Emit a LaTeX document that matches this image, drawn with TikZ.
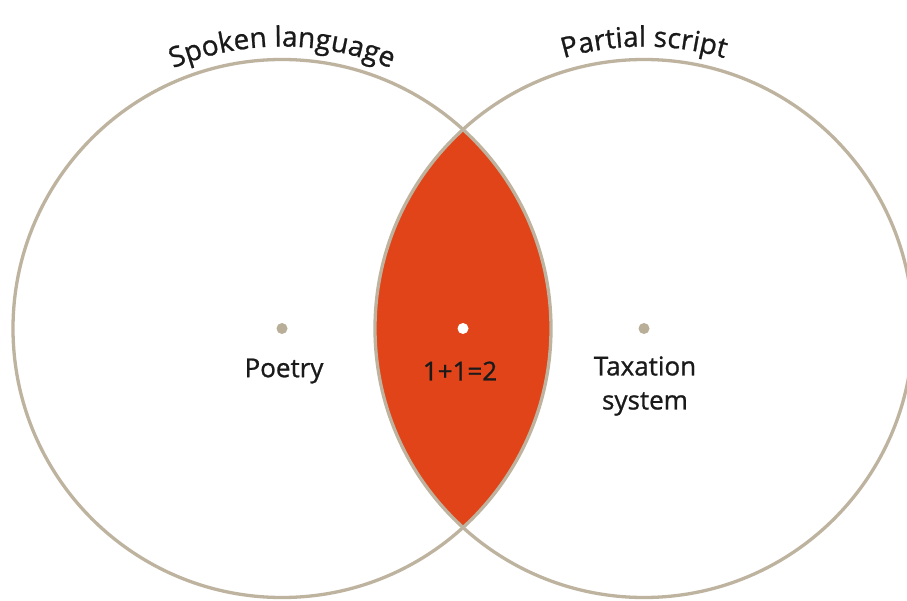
\documentclass[tikz,border=0pt]{standalone}
\usepackage{fontspec}
\setmainfont{Open Sans}[FakeBold=0.9]
\usetikzlibrary{decorations.text}
\definecolor{rimtan}{HTML}{BDB39F}
\definecolor{dottan}{HTML}{B9AE98}
\definecolor{lensred}{HTML}{E2441A}
\definecolor{inkdark}{HTML}{1A1A1A}
\newcommand{\curvefont}{\fontsize{28pt}{28pt}\selectfont}
\tikzset{
  ring/.style={circle, draw=rimtan, line width=3.3pt, minimum size=538pt, inner sep=0pt},
  spot/.style={circle, fill=#1, minimum size=11pt, inner sep=0pt},
  lbl/.style={text=inkdark, font=\fontsize{26pt}{34pt}\selectfont, align=center, inner sep=0pt},
  arclbl/.style={decorate, decoration={text along path, text align=center, text color=inkdark, text={|\curvefont|#1}}}
}
\begin{document}
\begin{tikzpicture}[x=1pt, y=1pt]
\useasboundingbox (0,0) rectangle (907,-601);
\fill[white] (0,0) rectangle (907,-601);
\coordinate (cL) at (282,-328.5);
\coordinate (cR) at (644,-328.5);
\begin{scope}
  \clip (cL) circle[radius=269pt];
  \fill[lensred] (cR) circle[radius=269pt];
\end{scope}
\node[ring] (L) at (cL) {};
\node[ring] (R) at (cR) {};
\node[spot=dottan] (dL) at (cL) {};
\node[spot=dottan] (dR) at (cR) {};
\node[spot=white] (dM) at (463,-328.5) {};
\node[lbl] (poetry) at (284,-371) {Poetry};
\node[lbl] (math) at (460,-371) {1+1=2};
\node[lbl] (tax) at (645,-386) {Taxation\\system};
\path[arclbl={Spoken language}] ([shift={(130:282pt)}]cL) arc[start angle=130, end angle=50, radius=282pt];
\path[arclbl={Partial script}] ([shift={(130:282pt)}]cR) arc[start angle=130, end angle=50, radius=282pt];
\end{tikzpicture}
\end{document}
